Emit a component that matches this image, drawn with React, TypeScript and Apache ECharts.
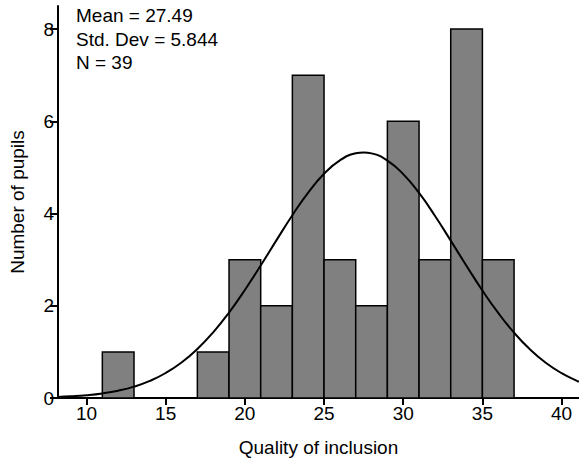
import React, { useEffect, useRef } from "react";
import * as echarts from "echarts";

// Histogram bins (width 2) and counts
const binStarts = [11, 13, 15, 17, 19, 21, 23, 25, 27, 29, 31, 33, 35];
const binEnds = [13, 15, 17, 19, 21, 23, 25, 27, 29, 31, 33, 35, 37];
const counts = [1, 0, 0, 1, 3, 2, 7, 3, 2, 6, 3, 8, 3];

// Normal curve points
const curveX = [8.2, 9, 10, 11, 12, 13, 14, 15, 16, 17, 18, 19, 20, 21, 22, 23, 24, 25, 26, 27, 27.5, 28, 29, 30, 31, 32, 33, 34, 35, 36, 37, 38, 39, 40, 41, 41.1];
const curveY = [0.023, 0.036, 0.06, 0.099, 0.159, 0.246, 0.371, 0.542, 0.77, 1.063, 1.424, 1.853, 2.342, 2.873, 3.424, 3.963, 4.455, 4.862, 5.154, 5.305, 5.324, 5.304, 5.149, 4.855, 4.446, 3.953, 3.413, 2.863, 2.331, 1.844, 1.416, 1.056, 0.765, 0.538, 0.368, 0.354];

const xTicks = [10, 15, 20, 25, 30, 35, 40];
const yTicks = [0, 2, 4, 6, 8];
const statLines = ["Mean = 27.49", "Std. Dev = 5.844", "N = 39"];

const FONT = "Liberation Sans";

export default function App() {
  const ref = useRef<HTMLDivElement>(null);
  useEffect(() => {
    if (!ref.current) return;
    const chart = echarts.init(ref.current, null, { renderer: "svg" });
    const barData = binStarts.map((s, i) => [s, binEnds[i], counts[i]]);
    chart.setOption({
      animation: false,
      backgroundColor: "#ffffff",
      grid: { left: 58, right: 0, top: 6, bottom: 61, containLabel: false, outerBoundsMode: "none" },
      xAxis: {
        type: "value",
        min: 8.2,
        max: 41.1,
        name: "Quality of inclusion",
        nameLocation: "middle",
        nameGap: 40,
        nameTextStyle: { fontFamily: FONT, fontSize: 19, color: "#000" },
        splitLine: { show: false },
        axisLine: { lineStyle: { color: "#000", width: 2 } },
        axisTick: { length: 7, lineStyle: { color: "#000", width: 2 }, customValues: xTicks },
        axisLabel: { fontFamily: FONT, fontSize: 19, color: "#000", margin: 6, customValues: xTicks },
      },
      yAxis: {
        type: "value",
        position: "left",
        min: 0,
        max: 8.5,
        name: "Number of pupils",
        nameLocation: "middle",
        nameGap: 31,
        nameTextStyle: { fontFamily: FONT, fontSize: 19, color: "#000" },
        splitLine: { show: false },
        axisLine: { show: true, lineStyle: { color: "#000", width: 2 } },
        axisTick: { show: true, inside: false, length: 8, lineStyle: { color: "#000", width: 2 }, customValues: yTicks },
        axisLabel: {
          fontFamily: FONT,
          fontSize: 19,
          color: "#000",
          margin: 4,
          inside: false,
          align: "right",
          verticalAlign: "middle",
          customValues: yTicks,
        },
      },
      graphic: [
        {
          type: "text",
          left: 76,
          top: 4,
          style: {
            text: statLines.join("\n"),
            font: `19px ${FONT}`,
            lineHeight: 23.5,
            fill: "#000",
          },
        },
      ],
      series: [
        {
          type: "custom",
          data: barData,
          encode: { x: [0, 1], y: 2 },
          renderItem: (params: any, api: any) => {
            const s = api.value(0);
            const e = api.value(1);
            const c = api.value(2);
            if (c <= 0) return null;
            const p0 = api.coord([s, c]);
            const p1 = api.coord([e, 0]);
            return {
              type: "rect",
              shape: { x: p0[0], y: p0[1], width: p1[0] - p0[0], height: p1[1] - p0[1] },
              style: { fill: "#808080", stroke: "#000", lineWidth: 1.5 },
            };
          },
          z: 2,
        },
        {
          type: "line",
          data: curveX.map((x, i) => [x, curveY[i]]),
          smooth: true,
          showSymbol: false,
          symbol: "none",
          lineStyle: { color: "#000", width: 2 },
          clip: true,
          z: 3,
        },
      ],
    });
    return () => chart.dispose();
  }, []);
  return (
    <div
      ref={ref}
      style={{ position: "fixed", left: 0, top: 0, width: 579, height: 459 }}
    />
  );
}
